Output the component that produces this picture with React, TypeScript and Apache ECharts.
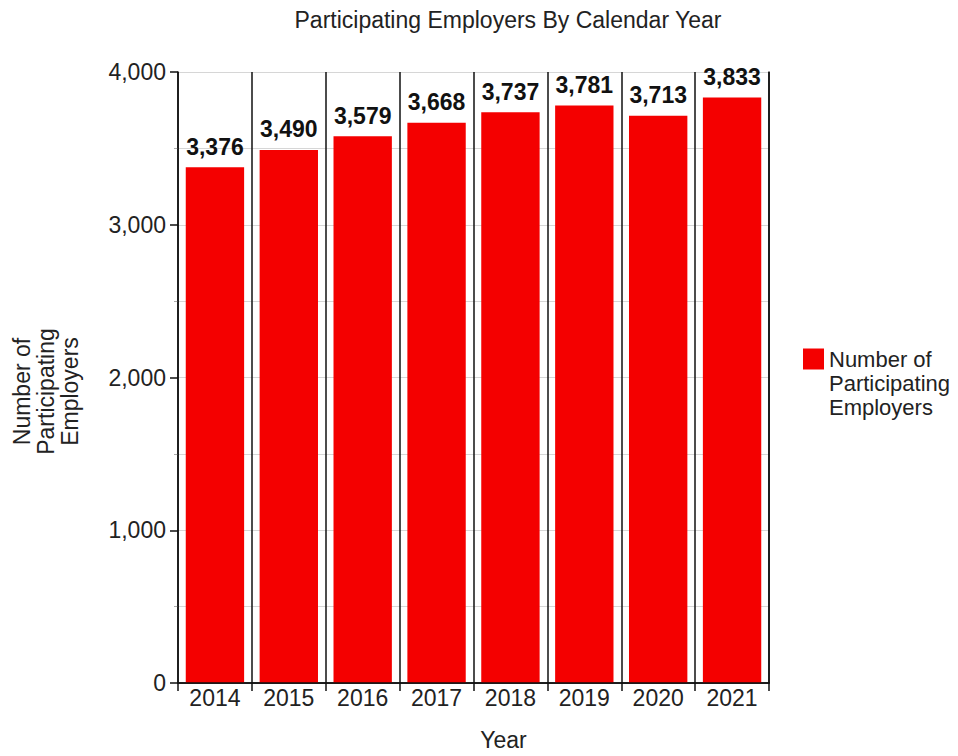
import React, { useEffect, useRef } from "react";
import * as echarts from "echarts";

const years = ["2014", "2015", "2016", "2017", "2018", "2019", "2020", "2021"];
const employers = [3376, 3490, 3579, 3668, 3737, 3781, 3713, 3833];
const seriesName = "Number of Participating Employers";
const titleText = "Participating Employers By Calendar Year";
const yAxisName = "Number of\nParticipating\nEmployers";
const xAxisName = "Year";

const FONT = "Liberation Sans, Arial, sans-serif";

export default function App() {
  const ref = useRef<HTMLDivElement>(null);
  useEffect(() => {
    document.body.style.margin = "0";
    if (!ref.current) return;
    const chart = echarts.init(ref.current, null, { renderer: "svg" });
    chart.setOption({
      animation: false,
      backgroundColor: "#ffffff",
      textStyle: { fontFamily: FONT },
      title: {
        text: titleText,
        left: 503,
        top: 3,
        textAlign: "center",
        textStyle: { fontFamily: FONT, fontSize: 23, fontWeight: "normal", color: "#222" },
      },
      legend: {
        data: [seriesName],
        orient: "vertical",
        left: 798,
        top: 294,
        icon: "rect",
        itemWidth: 21,
        itemHeight: 21,
        itemGap: 8,
        formatter: () => "\n\nNumber of\nParticipating\nEmployers",
        textStyle: {
          fontFamily: FONT,
          fontSize: 22,
          color: "#222",
          lineHeight: 24,
        },
      },
      grid: { left: 178, right: 189, top: 72, bottom: 73, containLabel: false },
      xAxis: [
        {
          type: "category",
          data: years,
          position: "bottom",
          name: xAxisName,
          nameLocation: "middle",
          nameGap: 45,
          nameTextStyle: { fontFamily: FONT, fontSize: 23, color: "#222", padding: [0, 0, 0, 60] },
          axisLine: { show: true, lineStyle: { color: "#111", width: 1.5 } },
          axisTick: { show: true, length: 8, lineStyle: { color: "#111", width: 1.5 } },
          axisLabel: { fontFamily: FONT, fontSize: 23, color: "#222", margin: 3 },
          splitLine: { show: true, lineStyle: { color: "#111", width: 1.5 } },
          z: 5,
        },
        {
          type: "category",
          data: years,
          position: "top",
          axisLine: { show: true, lineStyle: { color: "#111", width: 1.5 } },
          axisTick: { show: false },
          axisLabel: { show: false },
          splitLine: { show: false },
        },
      ],
      yAxis: [
        {
          type: "value",
          min: 0,
          max: 4000,
          interval: 1000,
          name: yAxisName,
          nameLocation: "middle",
          nameGap: 96,
          nameRotate: 90,
          nameTextStyle: { fontFamily: FONT, fontSize: 23, color: "#222", lineHeight: 24, padding: [0, 0, 0, -28] },
          axisLine: { show: true, lineStyle: { color: "#111", width: 1.5 } },
          axisTick: { show: true, length: 8, lineStyle: { color: "#111", width: 1.5 } },
          minorTick: { show: true, splitNumber: 2, length: 4, lineStyle: { color: "#aaa" } },
          axisLabel: {
            fontFamily: FONT,
            fontSize: 23,
            color: "#222",
            margin: 12,
            formatter: (v: number) => v.toLocaleString("en-US"),
          },
          splitLine: { show: true, lineStyle: { color: "#d6d6d6", width: 1 } },
          minorSplitLine: { show: true, lineStyle: { color: "#d6d6d6", width: 1 } },
        },
        {
          type: "value",
          min: 0,
          max: 4000,
          interval: 1000,
          position: "right",
          axisLine: { show: true, lineStyle: { color: "#111", width: 1.5 } },
          axisTick: { show: false },
          axisLabel: { show: false },
          splitLine: { show: false },
        },
      ],
      series: [
        {
          name: seriesName,
          type: "bar",
          data: employers,
          barCategoryGap: "21%",
          itemStyle: { color: "#f40000" },
          z: 3,
          label: {
            show: true,
            position: "top",
            distance: 9,
            fontFamily: FONT,
            fontSize: 23,
            fontWeight: "bold",
            color: "#111",
            formatter: (p: any) => Number(p.value).toLocaleString("en-US"),
          },
        },
      ],
    });
    return () => chart.dispose();
  }, []);
  return <div ref={ref} style={{ width: 958, height: 756 }} />;
}
